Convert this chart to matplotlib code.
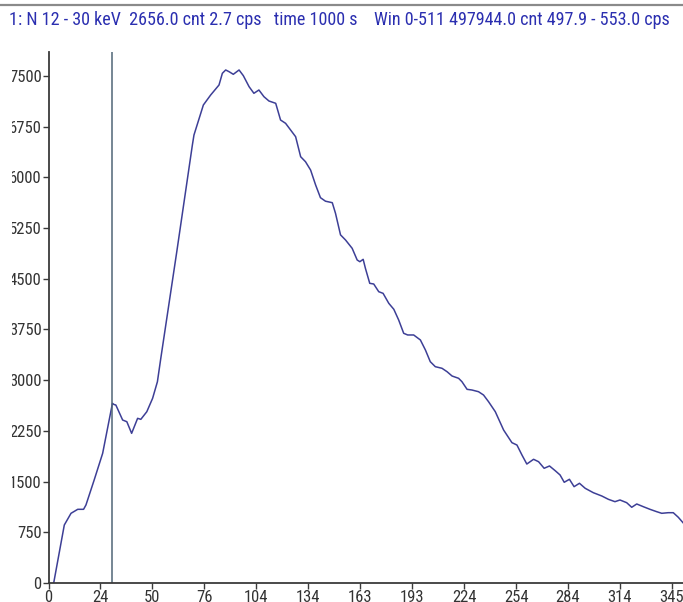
import numpy as np
import matplotlib
matplotlib.use('Agg')
import matplotlib.pyplot as plt
from matplotlib.patches import Rectangle
from matplotlib.lines import Line2D

# tick labels along x (keV), evenly spaced on screen
xtickVals = [0, 24, 50, 76, 104, 134, 163, 193, 224, 254, 284, 314, 345]
ytickVals = [0, 750, 1500, 2250, 3000, 3750, 4500, 5250, 6000, 6750, 7500]

energy = [2.4, 7.3, 10.4, 13.5, 16.2, 17.3, 21.1, 25.1, 30.0, 30.8,
          31.7, 35.1, 37.2, 39.6, 42.6, 44.2, 47.2, 50.1, 52.5, 54.2,
          62.2, 70.0, 70.8, 75.5, 79.4, 83.9, 85.7, 87.5, 89.3, 91.6,
          94.7, 97.0, 100.1, 102.7, 105.5, 108.4, 111.3, 115.2, 118.0, 120.9,
          123.8, 126.7, 129.6, 132.4, 135.3, 138.1, 140.8, 143.6, 147.4, 149.2,
          152.0, 154.8, 158.5, 161.3, 162.8, 164.7, 166.0, 168.5, 170.8, 173.7,
          176.2, 179.5, 182.4, 185.2, 188.1, 190.4, 193.9, 197.9, 200.9, 203.8,
          206.8, 210.8, 213.8, 216.8, 220.7, 222.7, 225.7, 228.5, 232.3, 235.2,
          238.1, 242.0, 246.8, 251.6, 254.5, 257.4, 260.2, 264.1, 267.0, 270.2,
          273.3, 276.6, 279.4, 281.8, 284.8, 287.5, 290.6, 293.9, 298.6, 303.5,
          307.3, 311.1, 314.0, 318.0, 321.0, 324.0, 327.9, 331.9, 335.9, 338.9,
          342.8, 345.8, 348.8, 351.6]
counts = [0, 858, 1031, 1090, 1090, 1154, 1524, 1918, 2658, 2640,
          2633, 2411, 2386, 2214, 2436, 2421, 2534, 2732, 2977, 3324,
          4901, 6479, 6627, 7071, 7219, 7367, 7540, 7589, 7564, 7525,
          7589, 7505, 7342, 7244, 7293, 7194, 7130, 7096, 6849, 6800,
          6701, 6602, 6306, 6232, 6109, 5888, 5700, 5648, 5626, 5469,
          5150, 5074, 4951, 4778, 4753, 4788, 4655, 4433, 4423, 4309,
          4285, 4137, 4049, 3891, 3694, 3669, 3669, 3595, 3447, 3274,
          3200, 3176, 3126, 3062, 3028, 2978, 2865, 2855, 2830, 2781,
          2682, 2534, 2263, 2076, 2041, 1893, 1760, 1830, 1794, 1697,
          1731, 1661, 1598, 1490, 1534, 1425, 1475, 1401, 1336, 1287,
          1238, 1203, 1228, 1188, 1120, 1169, 1129, 1090, 1055, 1031,
          1040, 1040, 972, 892]

markerKeV = 30
header = ('1: N 12 - 30 keV  2656.0 cnt 2.7 cps   time 1000 s    '
          'Win 0-511 497944.0 cnt 497.9 - 553.0 cps')

tv = np.array(xtickVals, float)
ti = np.arange(len(tv), dtype=float)


def fwd(v):
    v = np.asarray(v, float)
    out = np.interp(v, tv, ti)
    out = np.where(v > tv[-1], ti[-1] + (v - tv[-1]) / (tv[-1] - tv[-2]), out)
    out = np.where(v < tv[0], (v - tv[0]) / (tv[1] - tv[0]), out)
    return out


def inv(p):
    p = np.asarray(p, float)
    out = np.interp(p, ti, tv)
    out = np.where(p > ti[-1], tv[-1] + (p - ti[-1]) * (tv[-1] - tv[-2]), out)
    out = np.where(p < ti[0], tv[0] + p * (tv[1] - tv[0]), out)
    return out


plt.rcParams['font.family'] = ['Roboto Condensed', 'Liberation Sans', 'DejaVu Sans']

W, H = 683, 602
fig = plt.figure(figsize=(W / 100, H / 100), dpi=100)
ax = fig.add_axes([48.5 / W, (H - 583) / H, (W - 48.5) / W, (583 - 52) / H])

ax.set_xscale('function', functions=(fwd, inv))
ax.plot(energy, counts, color='#3d3f96', lw=1.1)
ax.axvline(markerKeV, color='#4f6676', lw=1.1)

ax.set_xlim(0, 351.6)
ax.set_ylim(0, 7855)
ax.set_xticks(xtickVals)
ax.set_xticklabels([str(v) for v in xtickVals])
ax.set_yticks(ytickVals)
ax.set_yticklabels([str(v) for v in ytickVals])
ax.minorticks_off()

for s in ['top', 'right']:
    ax.spines[s].set_visible(False)
for s in ['left', 'bottom']:
    ax.spines[s].set_color('#3a3a3a')
    ax.spines[s].set_linewidth(1.3)
ax.tick_params(direction='out', length=4, width=1, color='#3a3a3a',
               labelcolor='#333333', labelsize=12, pad=1)

# left strip where the screenshot cuts the labels off
fig.patches.append(Rectangle((0, 0), 11.5 / W, 0.9, transform=fig.transFigure,
                             facecolor='white', edgecolor='none', zorder=5))

t = fig.text(9 / W, 1 - 20 / H, header, color='#2b2fb0', fontsize=12.5,
             va='center', ha='left', zorder=4)
fig.canvas.draw()
w = t.get_window_extent().width
t.set_fontsize(12.5 * 667 / w)

fig.add_artist(Line2D([0, 1], [1 - 4.5 / H, 1 - 4.5 / H], transform=fig.transFigure,
                      color='#8a8a8a', lw=1.6, zorder=6))

fig.savefig('out.png', dpi=100)
